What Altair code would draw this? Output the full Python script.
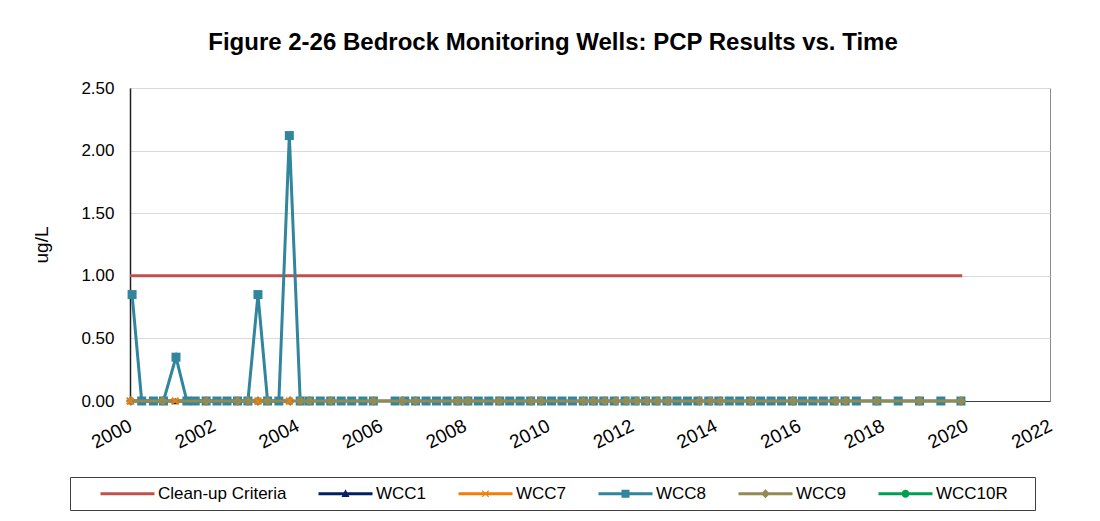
import altair as alt
import pandas as pd

# ---------------- data (decimal years, ug/L) ----------------
series_names = ["Clean-up Criteria", "WCC1", "WCC7", "WCC8", "WCC9", "WCC10R"]
series_colors = ["#C0504D", "#002060", "#F07F09", "#31859C", "#948A54", "#00A050"]

crit_years = [2000.0, 2019.9]
crit_values = [1.0, 1.0]

wcc1_years = [2000.02, 2001.08, 2003.06, 2003.81]
wcc1_values = [0.0, 0.0, 0.0, 0.0]

wcc7_years = [2000.0, 2001.08, 2003.06, 2003.81]
wcc7_values = [0.0, 0.0, 0.0, 0.0]

wcc8_years = [
    2000.05, 2000.28, 2000.56, 2000.80,
    2001.10, 2001.36, 2001.56, 2001.82,
    2002.08, 2002.32, 2002.57, 2002.82,
    2003.06, 2003.29, 2003.56, 2003.81,
    2004.07, 2004.29, 2004.55, 2004.80,
    2005.05, 2005.30, 2005.57, 2005.82,
    2006.34, 2006.57, 2006.83,
    2007.08, 2007.33, 2007.58, 2007.84,
    2008.08, 2008.33, 2008.58, 2008.84,
    2009.08, 2009.33, 2009.58, 2009.84,
    2010.08, 2010.33, 2010.58, 2010.84,
    2011.08, 2011.33, 2011.58, 2011.84,
    2012.08, 2012.33, 2012.58, 2012.84,
    2013.08, 2013.33, 2013.58, 2013.84,
    2014.08, 2014.33, 2014.58, 2014.84,
    2015.08, 2015.33, 2015.58, 2015.84,
    2016.08, 2016.33, 2016.58, 2016.84,
    2017.10, 2017.37, 2017.86,
    2018.37, 2018.88,
    2019.39, 2019.87,
]
wcc8_values = [
    0.85, 0.0, 0.0, 0.0,
    0.35, 0.0, 0.0, 0.0,
    0.0, 0.0, 0.0, 0.0,
    0.85, 0.0, 0.0, 2.12,
    0.0, 0.0, 0.0, 0.0,
    0.0, 0.0, 0.0, 0.0,
    0.0, 0.0, 0.0,
    0.0, 0.0, 0.0, 0.0,
    0.0, 0.0, 0.0, 0.0,
    0.0, 0.0, 0.0, 0.0,
    0.0, 0.0, 0.0, 0.0,
    0.0, 0.0, 0.0, 0.0,
    0.0, 0.0, 0.0, 0.0,
    0.0, 0.0, 0.0, 0.0,
    0.0, 0.0, 0.0, 0.0,
    0.0, 0.0, 0.0, 0.0,
    0.0, 0.0, 0.0, 0.0,
    0.0, 0.0, 0.0,
    0.0, 0.0,
    0.0, 0.0,
]

wcc9_years = [
    2000.02, 2000.78, 2001.82, 2002.57, 2002.82, 2003.06, 2003.29, 2003.83,
    2004.07, 2004.29, 2004.80, 2005.82, 2006.52, 2006.83, 2007.84, 2008.08,
    2008.83, 2009.59, 2009.83, 2010.84, 2011.08, 2011.35, 2011.62, 2011.87,
    2012.12, 2012.36, 2012.61, 2012.86, 2013.62, 2013.88, 2014.11, 2014.85,
    2015.85, 2016.87, 2017.11, 2017.86, 2018.88, 2019.87,
]
wcc9_values = [
    0.0, 0.0, 0.0, 0.0, 0.0, 0.0, 0.0, 0.0,
    0.0, 0.0, 0.0, 0.0, 0.0, 0.0, 0.0, 0.0,
    0.0, 0.0, 0.0, 0.0, 0.0, 0.0, 0.0, 0.0,
    0.0, 0.0, 0.0, 0.0, 0.0, 0.0, 0.0, 0.0,
    0.0, 0.0, 0.0, 0.0, 0.0, 0.0,
]

x_ticks = [2000, 2002, 2004, 2006, 2008, 2010, 2012, 2014, 2016, 2018, 2020, 2022]
y_ticks = [0.0, 0.5, 1.0, 1.5, 2.0, 2.5]

# ---------------- styling ----------------
FONT = "Liberation Sans"

def frame(years, values):
    return pd.DataFrame({"year": years, "value": values})

x_enc = alt.X(
    "year:Q",
    scale=alt.Scale(domain=[2000, 2022], nice=False, zero=False),
    axis=alt.Axis(
        values=x_ticks, format="d", title=None, grid=False,
        labelAngle=333, labelAlign="right", labelBaseline="top",
        labelFontSize=19, labelFont=FONT, labelColor="#000000",
        labelPadding=15, labelOffset=-4, ticks=False,
        domainColor="#404040", domainWidth=1,
        labelFlush=False, labelOverlap=False,
    ),
)
y_enc = alt.Y(
    "value:Q",
    scale=alt.Scale(domain=[0, 2.5], nice=False),
    axis=alt.Axis(
        values=y_ticks, format=".2f", title="ug/L",
        labelFontSize=17, labelFont=FONT, labelColor="#000000",
        labelPadding=16, ticks=False,
        titleFont=FONT, titleFontSize=19, titleFontWeight="normal",
        titleColor="#000000", titlePadding=29,
        grid=True, gridColor="#D9D9D9", gridWidth=1,
        domainColor="#202020", domainWidth=1.5,
    ),
)

def line_layer(df, color):
    return alt.Chart(df).mark_line(color=color, strokeWidth=3).encode(x=x_enc, y=y_enc)

def point_layer(df, color, shape, size, filled=True, stroke_w=1):
    return alt.Chart(df).mark_point(
        shape=shape, size=size, filled=filled, color=color, opacity=1,
        strokeWidth=stroke_w,
    ).encode(x=x_enc, y=y_enc)

df_crit = frame(crit_years, crit_values)
df1 = frame(wcc1_years, wcc1_values)
df7 = frame(wcc7_years, wcc7_values)
df8 = frame(wcc8_years, wcc8_values)
df9 = frame(wcc9_years, wcc9_values)

layers = [
    line_layer(df_crit, "#C0504D"),
    line_layer(df1, "#002060"),
    point_layer(df1, "#002060", "triangle-up", 55),
    line_layer(df7, "#F07F09"),
    line_layer(df8, "#31859C"),
    point_layer(df8, "#31859C", "square", 81),
    line_layer(df9, "#948A54"),
    point_layer(df9, "#948A54", "diamond", 105),
    point_layer(df7, "#F07F09", "M-1,-1L1,1M-1,1L1,-1", 45, filled=False, stroke_w=2),
]

# ---------------- legend (line + marker symbols) ----------------
LINE = "M-6.75,-0.375H6.75V0.375H-6.75Z"
legend_paths = [
    LINE,
    LINE + "M0,-1.1L1,0.8H-1Z",
    LINE + "M-0.9,-0.7L-0.7,-0.9L0.9,0.7L0.7,0.9ZM0.7,-0.9L0.9,-0.7L-0.7,0.9L-0.9,0.7Z",
    LINE + "M-1,-1H1V1H-1Z",
    LINE + "M0,-1.1L1.1,0L0,1.1L-1.1,0Z",
    LINE + "M-1,0A1,1 0 1,1 1,0A1,1 0 1,1 -1,0Z",
]
legend_common = dict(title="\u00a0", titleOrient="right", titlePadding=19)
legend_layer = alt.Chart(pd.DataFrame({"series": series_names})).transform_filter(
    "false"
).mark_point(filled=True, opacity=1).encode(
    color=alt.Color("series:N",
                    scale=alt.Scale(domain=series_names, range=series_colors),
                    legend=alt.Legend(**legend_common)),
    shape=alt.Shape("series:N",
                    scale=alt.Scale(domain=series_names, range=legend_paths),
                    legend=alt.Legend(**legend_common)),
)
layers.append(legend_layer)

chart = alt.layer(*layers).properties(
    width=920,
    height=313,
    autosize=alt.AutoSizeParams(type="none"),
    padding={"left": 122, "top": 80, "right": 42, "bottom": 112},
    title=alt.TitleParams(
        "Figure 2-26 Bedrock Monitoring Wells: PCP Results vs. Time",
        font=FONT, fontSize=24, fontWeight="bold", color="#000000",
        anchor="middle", dx=-37, offset=24,
    ),
).configure_view(
    stroke="#8C8C8C", strokeWidth=1
).configure_legend(
    orient="none", legendX=-60, legendY=389, direction="horizontal",
    columns=6, symbolSize=64, symbolStrokeWidth=0, symbolOffset=41,
    labelOffset=22, columnPadding=9, labelFont=FONT, labelFontSize=17,
    labelColor="#000000", padding=8, strokeColor="#404040",
    fillColor="#FFFFFF", symbolOpacity=1, titleFontSize=17,
)

chart.save("out.html", embed_options={"renderer": "svg", "actions": False})
